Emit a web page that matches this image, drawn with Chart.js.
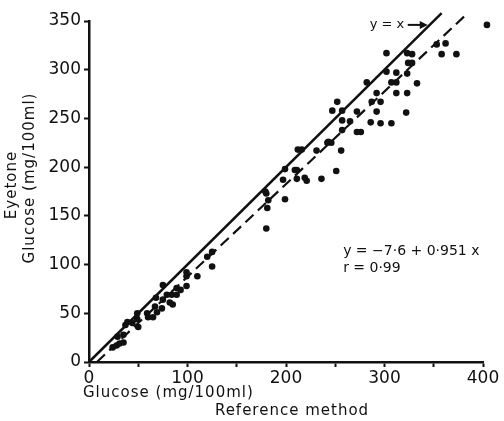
<!DOCTYPE html>
<html>
<head>
<meta charset="utf-8">
<title>Eyetone vs reference glucose</title>
<script src="https://cdn.jsdelivr.net/npm/chart.js@4.4.0/dist/chart.umd.min.js"></script>
<style>
  html, body { margin: 0; padding: 0; background: #fff; }
  #wrap { width: 504px; height: 421px; }
</style>
</head>
<body>
<div id="wrap"><canvas id="glucoseChart"></canvas></div>
<script>
// Reference method glucose (mg/100ml) and Eyetone reading for each sample
const referenceGlucose = [
  24, 28, 31, 35, 29, 35, 37, 39, 44, 50, 49, 49, 59, 60, 65, 69, 67, 74, 68, 75,
  82, 85, 79, 84, 89, 75, 93, 89, 99, 99, 99, 110, 120, 125, 125,
  180, 181, 180, 179, 182, 199, 197, 199, 209, 211, 212, 216, 221, 231, 236, 219,
  211, 242, 246, 251, 256, 243,
  247, 252, 257, 257, 257, 265, 272, 272, 276, 282, 286, 287, 292, 292, 296, 296,
  302, 302, 307, 307, 312, 312, 312, 322, 323, 323, 323, 324, 328, 328, 333,
  353, 358, 362, 373, 404, 409
];
const eyetoneGlucose = [
  15, 17, 19, 20, 26, 28, 38, 41, 40, 36, 44, 50, 50, 46, 46, 51, 57, 55, 66, 64,
  61, 59, 69, 69, 69, 79, 74, 76, 78, 88, 92, 88, 108, 113, 98,
  173, 158, 137, 175, 166, 167, 187, 198, 197, 188, 218, 218, 186, 217, 188, 189,
  197, 225, 225, 196, 217, 226,
  258, 267, 258, 248, 238, 247, 257, 236, 236, 287, 246, 267, 276, 257, 267, 245,
  317, 298, 287, 245, 297, 287, 276, 256, 317, 296, 276, 307, 316, 307, 286,
  326, 316, 327, 316, 346, 326
];

// y = x line and the fitted line y = -7.6 + 0.951x
const identityEnds = [0, 358];
const fitIntercept = -7.6;
const fitSlope = 0.951;
const fitEnds = [8, 383];

const xTicks = [0, 100, 200, 300, 400];
const yTicks = [0, 50, 100, 150, 200, 250, 300, 350];

const points = referenceGlucose.map((x, i) => ({ x: x, y: eyetoneGlucose[i] }));
const identityLine = identityEnds.map(v => ({ x: v, y: v }));
const fitLine = fitEnds.map(v => ({ x: v, y: fitIntercept + fitSlope * v }));

const tickFont = { family: 'DejaVu Sans', size: 17 };

// axis titles and the notes written inside the plot
const textLabels = {
  id: 'textLabels',
  afterDraw(chart) {
    const ctx = chart.ctx;
    const xs = chart.scales.x;
    const ys = chart.scales.y;
    ctx.save();
    ctx.fillStyle = '#111';
    ctx.textBaseline = 'middle';
    ctx.font = '15px "DejaVu Sans"';
    ctx.letterSpacing = '1px';

    // x title
    ctx.textAlign = 'left';
    ctx.fillText('Glucose (mg/100ml)', 83, 393);
    ctx.textAlign = 'center';
    ctx.fillText('Reference method', 292, 411);

    // y title (two rotated lines)
    ctx.save();
    ctx.translate(12, 185);
    ctx.rotate(-Math.PI / 2);
    ctx.fillText('Eyetone', 0, 0);
    ctx.restore();
    ctx.save();
    ctx.translate(30, 178);
    ctx.rotate(-Math.PI / 2);
    ctx.fillText('Glucose (mg/100ml)', 0, 0);
    ctx.restore();

    // y = x marker with arrow
    ctx.letterSpacing = '0px';
    ctx.textAlign = 'left';
    ctx.font = '13px "DejaVu Sans"';
    const ax = xs.getPixelForValue(285);
    const ay = ys.getPixelForValue(346);
    ctx.fillText('y = x', ax, ay);
    ctx.strokeStyle = '#111';
    ctx.lineWidth = 2;
    ctx.beginPath();
    ctx.moveTo(ax + 38, ay);
    ctx.lineTo(ax + 54, ay);
    ctx.stroke();
    ctx.beginPath();
    ctx.moveTo(ax + 58, ay);
    ctx.lineTo(ax + 50, ay - 4);
    ctx.lineTo(ax + 50, ay + 4);
    ctx.closePath();
    ctx.fill();

    // regression note
    ctx.font = '14px "DejaVu Sans"';
    const ex = xs.getPixelForValue(258);
    ctx.fillText('y = \u22127\u00b76 + 0\u00b7951 x', ex, ys.getPixelForValue(114));
    ctx.fillText('r = 0\u00b799', ex, ys.getPixelForValue(96));
    ctx.restore();
  }
};

new Chart(document.getElementById('glucoseChart'), {
  type: 'scatter',
  data: {
    datasets: [
      {
        label: 'y = x',
        data: identityLine,
        showLine: true,
        borderColor: '#111',
        borderWidth: 2.5,
        pointRadius: 0,
        clip: false
      },
      {
        label: 'fit',
        data: fitLine,
        showLine: true,
        borderColor: '#111',
        borderWidth: 2.2,
        borderDash: [11, 6],
        pointRadius: 0,
        clip: false
      },
      {
        label: 'samples',
        data: points,
        backgroundColor: '#111',
        borderWidth: 0,
        pointRadius: 3.3,
        clip: false
      }
    ]
  },
  options: {
    responsive: true,
    maintainAspectRatio: false,
    animation: false,
    layout: { padding: { top: 21, right: 21, left: 0, bottom: 0 } },
    plugins: {
      legend: { display: false },
      tooltip: { enabled: false }
    },
    scales: {
      x: {
        type: 'linear',
        min: 0,
        max: 400,
        ticks: {
          stepSize: 50,
          autoSkip: false,
          maxRotation: 0,
          color: '#111',
          font: tickFont,
          padding: 1,
          callback: v => xTicks.includes(v) ? String(v) : ''
        },
        grid: { drawOnChartArea: false, tickLength: 5, tickColor: '#111', tickWidth: 2 },
        border: { color: '#111', width: 2.5 },
        afterFit(scale) { scale.height = 59; }
      },
      y: {
        type: 'linear',
        min: 0,
        max: 350,
        ticks: {
          stepSize: 50,
          color: '#111',
          font: tickFont,
          padding: 3,
          callback: v => yTicks.includes(v) ? String(v) : ''
        },
        grid: { drawOnChartArea: false, tickLength: 5, tickColor: '#111', tickWidth: 2 },
        border: { color: '#111', width: 2.5 },
        afterFit(scale) { scale.width = 89; }
      }
    }
  },
  plugins: [textLabels]
});
</script>
</body>
</html>
